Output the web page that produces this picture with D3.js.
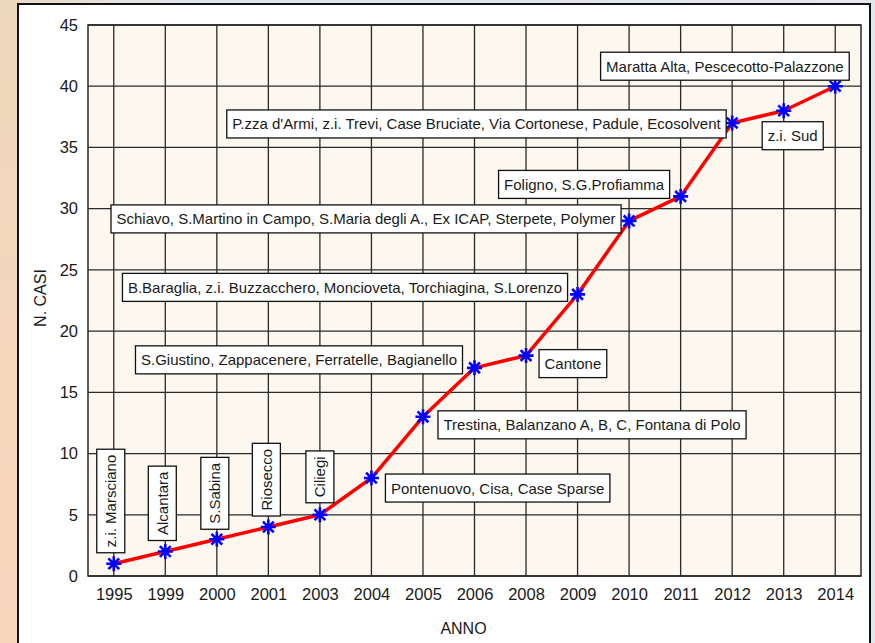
<!DOCTYPE html>
<html>
<head>
  <title>N. casi per anno</title>
  <script src="https://d3js.org/d3.v7.min.js"></script>
  <style>
    body { margin: 0; }
    svg { display: block; font-family: "Liberation Sans", Arial, sans-serif; }
  </style>
</head>
<body>
<div id="chart"></div>
<script type="text/javascript">

  // data
  var years = ["1995","1999","2000","2001","2003","2004","2005","2006","2008","2009","2010","2011","2012","2013","2014"];
  var cases = [1, 2, 3, 4, 5, 8, 13, 17, 18, 23, 29, 31, 37, 38, 40];
  var sites = [
    "z.i. Marsciano",
    "Alcantara",
    "S.Sabina",
    "Riosecco",
    "Ciliegi",
    "Pontenuovo, Cisa, Case Sparse",
    "Trestina, Balanzano A, B, C, Fontana di Polo",
    "S.Giustino, Zappacenere, Ferratelle, Bagianello",
    "Cantone",
    "B.Baraglia, z.i. Buzzacchero, Moncioveta, Torchiagina, S.Lorenzo",
    "Schiavo, S.Martino in Campo, S.Maria degli A., Ex ICAP, Sterpete, Polymer",
    "Foligno, S.G.Profiamma",
    "P.zza d'Armi, z.i. Trevi, Case Bruciate, Via Cortonese, Padule, Ecosolvent",
    "z.i. Sud",
    "Maratta Alta, Pescecotto-Palazzone"
  ];
  var yTicks = [0, 5, 10, 15, 20, 25, 30, 35, 40, 45];

  // where each label box sits relative to its point (layout only)
  var labelPlace = [
    {rot: true, dx: -3, dy: -11},
    {rot: true, dx: -3, dy: -11},
    {rot: true, dx: -2, dy: -10},
    {rot: true, dx: -2, dy: -11},
    {rot: true, dx: 0, dy: -12},
    {anchor: "start", dx: 14, dy: 10},
    {anchor: "start", dx: 15, dy: 8},
    {anchor: "end", dx: -12, dy: -8},
    {anchor: "start", dx: 13, dy: 8},
    {anchor: "end", dx: -10, dy: -7},
    {anchor: "end", dx: -8, dy: -2},
    {anchor: "end", dx: -11, dy: -12},
    {anchor: "end", dx: -6, dy: 1},
    {anchor: "middle", dx: 9, dy: 25},
    {anchor: "end", dx: 14, dy: -20}
  ];

  var W = 875, H = 643;
  var svg = d3.select("#chart").append("svg").attr("width", W).attr("height", H);

  // page background pieces around the panel
  var defs = svg.append("defs");
  var g1 = defs.append("linearGradient").attr("id", "side").attr("x1", 0).attr("y1", 0).attr("x2", 0).attr("y2", 1);
  g1.append("stop").attr("offset", "0%").attr("stop-color", "#eed8bb");
  g1.append("stop").attr("offset", "100%").attr("stop-color", "#f9d5bc");
  var g2 = defs.append("linearGradient").attr("id", "topbar").attr("x1", 0).attr("y1", 0).attr("x2", 1).attr("y2", 0);
  g2.append("stop").attr("offset", "0%").attr("stop-color", "#efd9c4");
  g2.append("stop").attr("offset", "20%").attr("stop-color", "#dfe4ea");
  g2.append("stop").attr("offset", "100%").attr("stop-color", "#e3e7ec");

  svg.append("rect").attr("width", W).attr("height", H).attr("fill", "url(#topbar)");
  svg.append("rect").attr("width", 18).attr("height", H).attr("fill", "url(#side)");
  svg.append("rect").attr("x", 18).attr("y", 4).attr("width", 852).attr("height", H)
    .attr("fill", "#fff").attr("stroke", "#111").attr("stroke-width", 2);

  var pl = 88, pr = 861, pt = 25, pb = 576;

  var x = d3.scalePoint().domain(years).range([pl, pr]).padding(0.5);
  var y = d3.scaleLinear().domain([0, 45]).range([pb, pt]);

  svg.append("rect").attr("x", pl).attr("y", pt).attr("width", pr - pl).attr("height", pb - pt)
    .attr("fill", "#fdf8ef");

  // grid
  svg.append("g").selectAll("line").data(years).enter().append("line")
    .attr("x1", function(d){ return x(d); }).attr("x2", function(d){ return x(d); })
    .attr("y1", pt).attr("y2", pb)
    .attr("stroke", "#2a2a2a").attr("stroke-width", 1.3);
  svg.append("g").selectAll("line").data(yTicks).enter().append("line")
    .attr("x1", pl).attr("x2", pr)
    .attr("y1", function(d){ return y(d); }).attr("y2", function(d){ return y(d); })
    .attr("stroke", "#2a2a2a").attr("stroke-width", 1.3);
  svg.append("rect").attr("x", pl).attr("y", pt).attr("width", pr - pl).attr("height", pb - pt)
    .attr("fill", "none").attr("stroke", "#2a2a2a").attr("stroke-width", 1.5);

  // axes
  var xAxis = svg.append("g").attr("transform", "translate(0," + pb + ")")
    .call(d3.axisBottom(x).tickSize(0).tickPadding(12));
  var yAxis = svg.append("g").attr("transform", "translate(" + pl + ",0)")
    .call(d3.axisLeft(y).tickValues(yTicks).tickSize(0).tickPadding(10));
  [xAxis, yAxis].forEach(function(a){
    a.select(".domain").remove();
    a.attr("font-size", 16.5).attr("font-family", "Liberation Sans, Arial, sans-serif");
    a.selectAll("text").attr("fill", "#1a1a1a");
  });

  svg.append("text").attr("x", (pl + pr) / 2 - 11).attr("y", 634).attr("text-anchor", "middle")
    .attr("font-size", 16).attr("fill", "#1a1a1a").text("ANNO");
  svg.append("text").attr("transform", "translate(46,298) rotate(-90)").attr("text-anchor", "middle")
    .attr("font-size", 16).attr("fill", "#1a1a1a").text("N. CASI");

  // line
  var pts = years.map(function(d, i){ return [x(d), y(cases[i])]; });
  svg.append("path").datum(pts).attr("d", d3.line())
    .attr("fill", "none").attr("stroke", "#ff0000").attr("stroke-width", 3.5).attr("stroke-linejoin", "round");

  // asterisk markers
  var r = 7.5, rd = r * 0.72;
  var star = "M" + (-r) + ",0L" + r + ",0M0," + (-r) + "L0," + r +
             "M" + (-rd) + "," + (-rd) + "L" + rd + "," + rd + "M" + (-rd) + "," + rd + "L" + rd + "," + (-rd);
  svg.append("g").selectAll("path").data(pts).enter().append("path")
    .attr("d", star).attr("transform", function(p){ return "translate(" + p[0] + "," + p[1] + ")"; })
    .attr("stroke", "#0000ff").attr("stroke-width", 2.6).attr("fill", "none");

  // label boxes
  var pad = 5.5, boxH = 28, fs = 15;
  var lab = svg.append("g");
  sites.forEach(function(s, i){
    var p = pts[i], o = labelPlace[i];
    var g = lab.append("g");
    var rect = g.append("rect").attr("fill", "#fff").attr("stroke", "#111").attr("stroke-width", 1.3);
    var t = g.append("text").attr("font-size", fs).attr("fill", "#1a1a1a").text(s);
    var w = t.node().getComputedTextLength() + 2 * pad;
    if (o.rot) {
      var cx = p[0] + o.dx, by = p[1] + o.dy;
      rect.attr("x", cx - boxH / 2).attr("y", by - w).attr("width", boxH).attr("height", w);
      t.attr("transform", "translate(" + (cx + 5.5) + "," + (by - pad) + ") rotate(-90)");
    } else {
      var cy = p[1] + o.dy, bx;
      if (o.anchor === "start") bx = p[0] + o.dx;
      else if (o.anchor === "end") bx = p[0] + o.dx - w;
      else bx = p[0] + o.dx - w / 2;
      rect.attr("x", bx).attr("y", cy - boxH / 2).attr("width", w).attr("height", boxH);
      t.attr("x", bx + pad).attr("y", cy + 5.5);
    }
  });

</script>
</body>
</html>
